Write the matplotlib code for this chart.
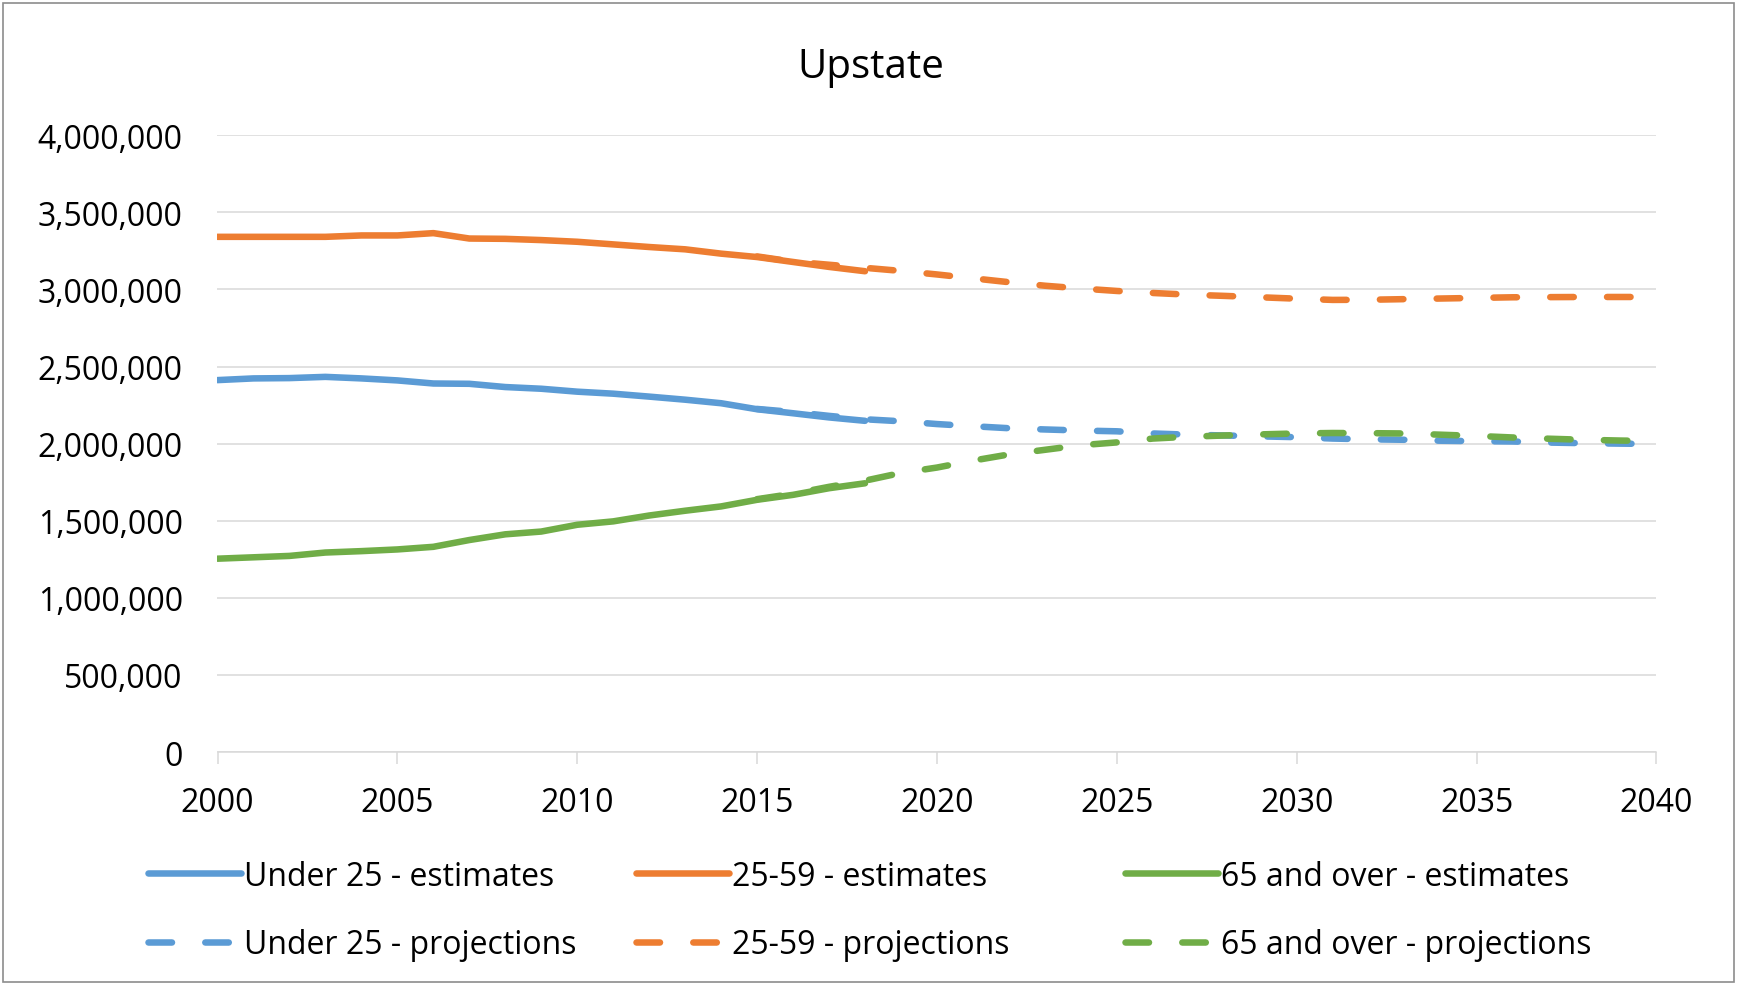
import matplotlib
matplotlib.use("Agg")
import matplotlib.pyplot as plt
from matplotlib.patches import Rectangle
from matplotlib.ticker import FuncFormatter

plt.rcParams['font.family'] = ['Open Sans', 'DejaVu Sans']

# data (people)
years_est = list(range(2000, 2019))
under25_est = [2412000, 2423000, 2425000, 2433000, 2423000, 2410000, 2390000, 2388000, 2367000,
               2356000, 2337000, 2324000, 2305000, 2285000, 2262000, 2223000, 2197000, 2170000, 2148000]
age25_59_est = [3341000, 3341000, 3341000, 3341000, 3350000, 3350000, 3365000, 3330000, 3328000,
                3320000, 3309000, 3292000, 3275000, 3260000, 3232000, 3210000, 3178000, 3146000, 3118000]
over65_est = [1254000, 1263000, 1272000, 1294000, 1303000, 1314000, 1331000, 1375000, 1412000,
              1430000, 1474000, 1496000, 1534000, 1565000, 1593000, 1636000, 1668000, 1711000, 1743000]

years_proj = list(range(2015, 2041))
under25_proj = [2225000, 2205000, 2180000, 2158000, 2145000, 2127000, 2113000, 2100000, 2092000,
                2085000, 2080000, 2066000, 2058000, 2053000, 2047000, 2042000, 2033000, 2028000,
                2025000, 2019000, 2016000, 2014000, 2007000, 2003000, 2000000, 1998000]
age25_59_proj = [3214000, 3180000, 3160000, 3140000, 3120000, 3097000, 3072000, 3047000, 3024000,
                 3006000, 2990000, 2977000, 2966000, 2958000, 2949000, 2940000, 2932000, 2933000,
                 2937000, 2941000, 2945000, 2949000, 2950000, 2951000, 2951000, 2951000]
over65_proj = [1640000, 1675000, 1720000, 1760000, 1810000, 1845000, 1890000, 1930000, 1960000,
               1990000, 2008000, 2033000, 2045000, 2053000, 2060000, 2066000, 2069000, 2068000,
               2066000, 2058000, 2050000, 2040000, 2032000, 2025000, 2020000, 2017000]

BLUE, ORANGE, GREEN = '#5B9BD5', '#ED7D31', '#70AD47'
GRID = '#D9D9D9'
LW = 4.7
DASH = (3.6, 5.1)

fig = plt.figure(figsize=(17.4, 9.87), dpi=100)
ax = fig.add_axes([0.125, 0.237, 0.827, 0.625])

kw = dict(lw=LW, solid_capstyle='round', dash_capstyle='round')
l1, = ax.plot(years_est, under25_est, color=BLUE, label='Under 25 - estimates', **kw)
l2, = ax.plot(years_est, age25_59_est, color=ORANGE, label='25-59 - estimates', **kw)
l3, = ax.plot(years_est, over65_est, color=GREEN, label='65 and over - estimates', **kw)
p1, = ax.plot(years_proj, under25_proj, color=BLUE, dashes=DASH, label='Under 25 - projections', **kw)
p2, = ax.plot(years_proj, age25_59_proj, color=ORANGE, dashes=DASH, label='25-59 - projections', **kw)
p3, = ax.plot(years_proj, over65_proj, color=GREEN, dashes=DASH, label='65 and over - projections', **kw)

ax.set_xlim(2000, 2040)
ax.set_ylim(0, 4000000)
ax.set_xticks(range(2000, 2041, 5))
ax.set_yticks(range(0, 4000001, 500000))
ax.yaxis.set_major_formatter(FuncFormatter(lambda v, p: '{:,.0f}'.format(v)))
ax.grid(axis='y', color=GRID, lw=1.1)
ax.set_axisbelow(True)
for s in ['top', 'right', 'left']:
    ax.spines[s].set_visible(False)
ax.spines['bottom'].set_color(GRID)
ax.spines['bottom'].set_linewidth(1.1)
ax.tick_params(axis='y', length=0, pad=25, labelsize=23)
ax.tick_params(axis='x', length=8.6, width=1.1, color=GRID, pad=16, labelsize=23)

fig.text(0.5006, 1 - 78 / 987, 'Upstate', ha='center', va='baseline', fontsize=29)

# three legend columns, placed like the excel layout
cols = [([l1, p1], 148), ([l2, p2], 636), ([l3, p3], 1125)]
for handles, xpix in cols:
    fig.legend(handles=handles, loc='center left', bbox_to_anchor=(xpix / 1740, 1 - 911.5 / 987),
               frameon=False, fontsize=23, handlelength=2.9, handletextpad=0.12,
               borderpad=0, borderaxespad=0, labelspacing=1.12)

fig.patches.append(Rectangle((3 / 1740, 4 / 987), 1731 / 1740, 979 / 987, transform=fig.transFigure,
                             fill=False, edgecolor='#8C8C8C', lw=1.2))

fig.savefig('out.png', dpi=100)
